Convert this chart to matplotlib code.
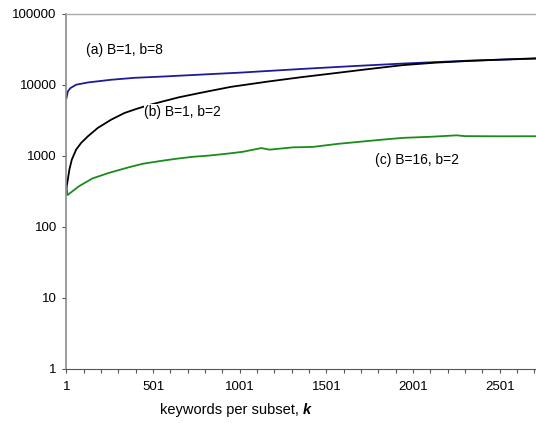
import numpy as np
import matplotlib
matplotlib.use("Agg")
import matplotlib.pyplot as plt
from matplotlib.ticker import FixedLocator, NullFormatter

plt.rcParams['font.family'] = ['Liberation Sans', 'DejaVu Sans']

# --- data ---
# (a) B=1, b=8
k_a = [1, 9, 24, 57, 125, 259, 394, 548, 781, 1001, 1359, 1650, 1940, 2326, 2710]
val_a = [6550, 8110, 9040, 10070, 10840, 11830, 12600, 13100, 14000, 14900,
         16800, 18400, 20000, 22000, 23500]

# (b) B=1, b=2
k_b = [1, 9, 18, 32, 57, 86, 125, 182, 259, 336, 404, 470, 550, 650, 781,
       950, 1168, 1360, 1554, 1750, 1940, 2130, 2326, 2520, 2710]
val_b = [357, 466, 645, 889, 1230, 1528, 1893, 2483, 3243, 4029, 4590, 5150, 5800,
         6700, 7800, 9400, 11200, 12900, 14700, 16800, 19000, 20600, 21800, 22800, 23700]

# (c) B=16, b=2
k_c = [1, 7, 74, 151, 248, 363, 440, 536, 633, 729, 826, 922, 1018, 1125, 1173,
       1307, 1423, 1567, 1828, 1943, 2100, 2252, 2300, 2500, 2710]
val_c = [375, 281, 375, 482, 579, 694, 774, 843, 911, 971, 1013, 1071, 1143, 1290, 1225,
         1320, 1340, 1479, 1700, 1796, 1860, 1950, 1900, 1890, 1894]

x_ticks = [1, 501, 1001, 1501, 2001, 2501]
y_ticks = [1, 10, 100, 1000, 10000, 100000]

# --- plot ---
fig = plt.figure(figsize=(5.36, 4.23), dpi=100)
ax = fig.add_axes([0.124, 0.128, 0.876, 0.839])

ax.plot(k_a, val_a, color='#1c1c96', lw=1.3)
ax.plot(k_b, val_b, color='black', lw=1.3)
ax.plot(k_c, val_c, color='#1a8c1a', lw=1.3)

ax.set_yscale('log')
ax.set_ylim(1, 100000)
ax.set_xlim(1, 2710)

ax.yaxis.set_major_locator(FixedLocator(y_ticks))
ax.set_yticklabels([str(v) for v in y_ticks])
ax.yaxis.set_minor_formatter(NullFormatter())
ax.tick_params(axis='y', which='minor', left=False)
ax.set_xticks(x_ticks)
ax.set_xticklabels([str(v) for v in x_ticks])
ax.xaxis.set_minor_locator(FixedLocator(np.arange(1, 2711, 100)))

ax.tick_params(axis='both', which='major', labelsize=9.5, length=3, width=0.8,
               color='#555555', pad=4)
ax.tick_params(axis='x', which='major', pad=6)
ax.tick_params(axis='x', which='minor', length=3, width=0.8, color='#555555')

ax.spines['right'].set_visible(False)
ax.spines['left'].set_color('#8a8a8a')
ax.spines['left'].set_linewidth(1.2)
ax.spines['bottom'].set_color('#555555')
ax.spines['bottom'].set_linewidth(0.8)
ax.spines['top'].set_color('#aaaaaa')
ax.spines['top'].set_linestyle((0, (2, 1)))
ax.spines['top'].set_linewidth(1.0)

ax.text(115, 27000, '(a) B=1, b=8', fontsize=10)
ax.text(450, 3700, '(b) B=1, b=2', fontsize=10,
        bbox=dict(facecolor='white', edgecolor='none', pad=0.5))
ax.text(1780, 760, '(c) B=16, b=2', fontsize=10)

# x label: plain text followed by bold italic k
fig.text(0.565, 0.022, 'keywords per subset, ', fontsize=10.5, ha='right', va='baseline')
fig.text(0.565, 0.022, 'k', fontsize=10.5, ha='left', va='baseline',
         fontweight='bold', fontstyle='italic')

fig.savefig('out.png', dpi=100)
